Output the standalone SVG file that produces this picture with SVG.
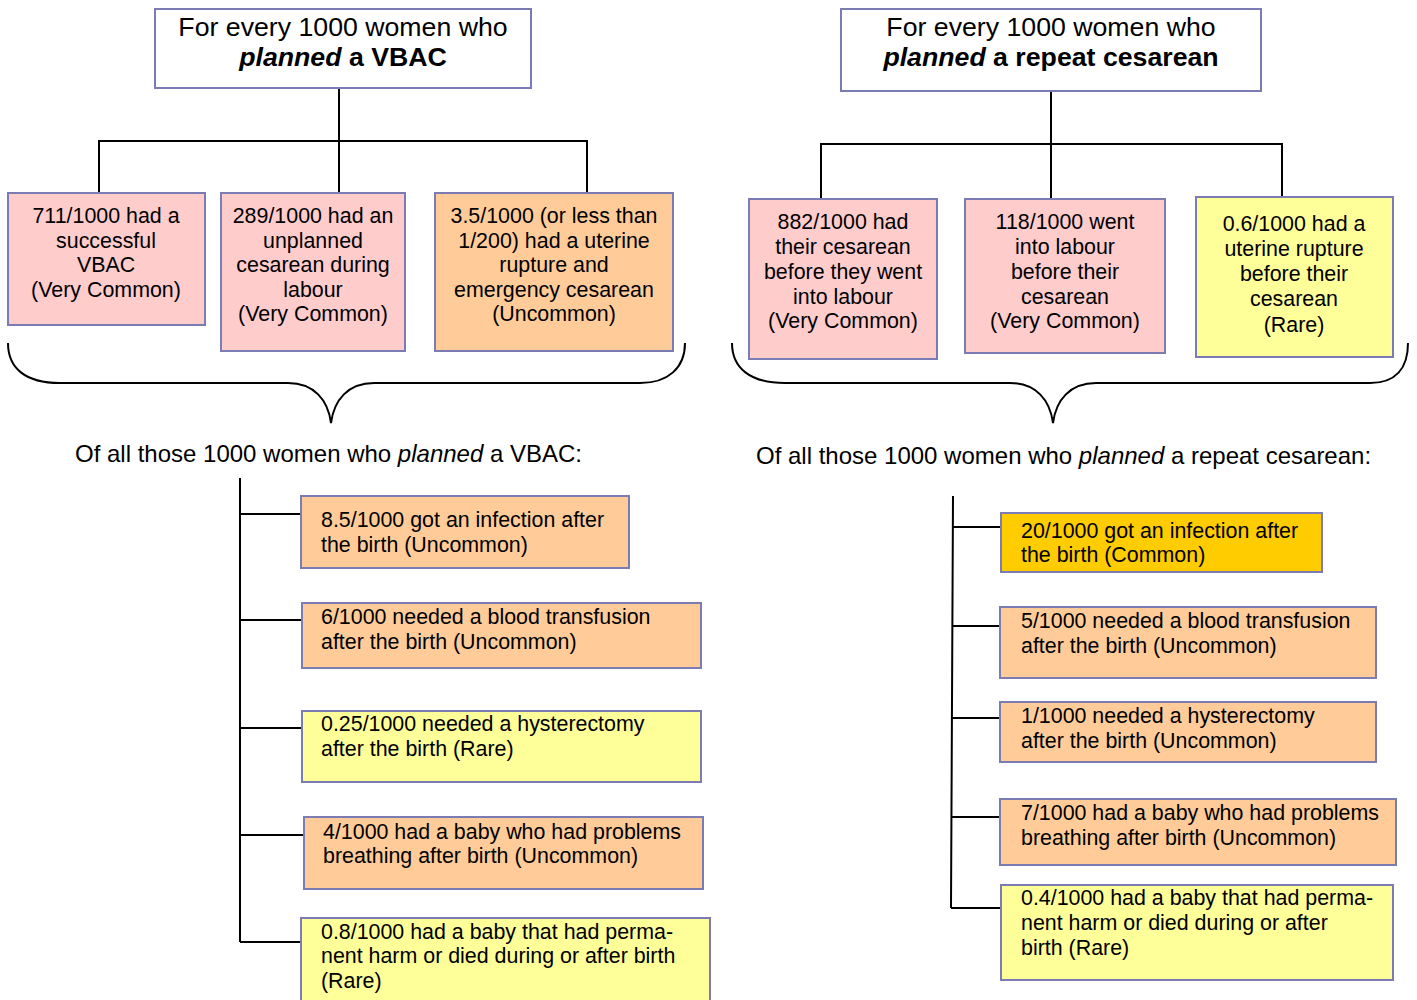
<svg xmlns="http://www.w3.org/2000/svg" width="1417" height="1000" viewBox="0 0 1417 1000">
<style>
text{font-family:"Liberation Sans",Arial,sans-serif;fill:#000}
.t{font-size:26.7px}
.b{font-size:21.4px}
.l{font-size:24px}
.c{text-anchor:middle}
.box{stroke:#7c7cb4;stroke-width:2}
.w{fill:#fff}.p{fill:#ffcccc}.o{fill:#ffcc99}.y{fill:#ffff99}.g{fill:#ffcc00}
.ln{stroke:#000;stroke-width:2;fill:none}
</style>
<rect width="1417" height="1000" fill="#fff"/>
<g id="connectors">
<path class="ln" d="M339,88V141M99,141H587M99,140V193M339,141V193M587,140V193"/>
<path class="ln" d="M1051,91V144M821,144H1282M821,143V199M1051,144V199M1282,143V197"/>
<path class="ln" d="M8,343C8,368 25,383 60,383L288,383C314,383 328,400 331,423C334,400 348,383 374,383L640,383C668,383 685,368 685,343"/>
<path class="ln" d="M732,343C732,368 750,383 785,383L1010,383C1036,383 1050,400 1053,423C1056,400 1070,383 1096,383L1370,383C1396,383 1408,368 1408,343"/>
<path class="ln" d="M240,478V942M240,514H300M240,620H302M240,728H302M240,835H304M240,942H301"/>
<path class="ln" d="M953,496L951,908M952,527H1001M952,626H1000M952,718H1000M951,817H1000M951,908H1001"/>
</g>
<g id="title-vbac"><rect class="box w" x="155" y="9" width="376" height="79"/>
<text class="t c" x="343" y="36">For every 1000 women who</text>
<text class="t c" x="343" y="66" font-weight="bold"><tspan font-style="italic">planned</tspan> a VBAC</text></g>
<g id="title-cs"><rect class="box w" x="841" y="9" width="420" height="82"/>
<text class="t c" x="1051" y="36">For every 1000 women who</text>
<text class="t c" x="1051" y="66" font-weight="bold"><tspan font-style="italic">planned</tspan> a repeat cesarean</text></g>

<g id="n-711"><rect class="box p" x="8" y="193" width="197" height="132"/>
<text class="b c" x="106" y="223">711/1000 had a<tspan x="106" y="248">successful</tspan><tspan x="106" y="272">VBAC</tspan><tspan x="106" y="297">(Very Common)</tspan></text></g>
<g id="n-289"><rect class="box p" x="221" y="193" width="184" height="158"/>
<text class="b c" x="313" y="223">289/1000 had an<tspan x="313" y="248">unplanned</tspan><tspan x="313" y="272">cesarean during</tspan><tspan x="313" y="297">labour</tspan><tspan x="313" y="321">(Very Common)</tspan></text></g>
<g id="n-3-5"><rect class="box o" x="435" y="193" width="238" height="158"/>
<text class="b c" x="554" y="223">3.5/1000 (or less than<tspan x="554" y="248">1/200) had a uterine</tspan><tspan x="554" y="272">rupture and</tspan><tspan x="554" y="297">emergency cesarean</tspan><tspan x="554" y="321">(Uncommon)</tspan></text></g>

<g id="n-882"><rect class="box p" x="749" y="199" width="188" height="160"/>
<text class="b c" x="843" y="229">882/1000 had<tspan x="843" y="254">their cesarean</tspan><tspan x="843" y="279">before they went</tspan><tspan x="843" y="304">into labour</tspan><tspan x="843" y="328">(Very Common)</tspan></text></g>
<g id="n-118"><rect class="box p" x="965" y="199" width="200" height="154"/>
<text class="b c" x="1065" y="229">118/1000 went<tspan x="1065" y="254">into labour</tspan><tspan x="1065" y="279">before their</tspan><tspan x="1065" y="304">cesarean</tspan><tspan x="1065" y="328">(Very Common)</tspan></text></g>
<g id="n-0-6"><rect class="box y" x="1196" y="197" width="197" height="160"/>
<text class="b c" x="1294" y="231">0.6/1000 had a<tspan x="1294" y="256">uterine rupture</tspan><tspan x="1294" y="281">before their</tspan><tspan x="1294" y="306">cesarean</tspan><tspan x="1294" y="332">(Rare)</tspan></text></g>

<g id="label-vbac"><text class="l" x="75" y="462">Of all those 1000 women who <tspan font-style="italic">planned</tspan> a VBAC:</text></g>
<g id="label-cs"><text class="l" x="756" y="464">Of all those 1000 women who <tspan font-style="italic">planned</tspan> a repeat cesarean:</text></g>

<g id="v-infection"><rect class="box o" x="301" y="496" width="328" height="72"/>
<text class="b" x="321" y="527">8.5/1000 got an infection after<tspan x="321" y="552">the birth (Uncommon)</tspan></text></g>
<g id="v-transfusion"><rect class="box o" x="302" y="603" width="399" height="65"/>
<text class="b" x="321" y="624">6/1000 needed a blood transfusion<tspan x="321" y="649">after the birth (Uncommon)</tspan></text></g>
<g id="v-hysterectomy"><rect class="box y" x="302" y="711" width="399" height="71"/>
<text class="b" x="321" y="731">0.25/1000 needed a hysterectomy<tspan x="321" y="756">after the birth (Rare)</tspan></text></g>
<g id="v-breathing"><rect class="box o" x="304" y="817" width="399" height="72"/>
<text class="b" x="323" y="839">4/1000 had a baby who had problems<tspan x="323" y="863">breathing after birth (Uncommon)</tspan></text></g>
<g id="v-harm"><rect class="box y" x="301" y="918" width="409" height="90"/>
<text class="b" x="321" y="939">0.8/1000 had a baby that had perma-<tspan x="321" y="963">nent harm or died during or after birth</tspan><tspan x="321" y="988">(Rare)</tspan></text></g>

<g id="c-infection"><rect class="box g" x="1001" y="513" width="321" height="59"/>
<text class="b" x="1021" y="538">20/1000 got an infection after<tspan x="1021" y="562">the birth (Common)</tspan></text></g>
<g id="c-transfusion"><rect class="box o" x="1000" y="607" width="376" height="71"/>
<text class="b" x="1021" y="628">5/1000 needed a blood transfusion<tspan x="1021" y="653">after the birth (Uncommon)</tspan></text></g>
<g id="c-hysterectomy"><rect class="box o" x="1000" y="702" width="376" height="60"/>
<text class="b" x="1021" y="723">1/1000 needed a hysterectomy<tspan x="1021" y="748">after the birth (Uncommon)</tspan></text></g>
<g id="c-breathing"><rect class="box o" x="1000" y="799" width="396" height="66"/>
<text class="b" x="1021" y="820">7/1000 had a baby who had problems<tspan x="1021" y="845">breathing after birth (Uncommon)</tspan></text></g>
<g id="c-harm"><rect class="box y" x="1001" y="885" width="392" height="95"/>
<text class="b" x="1021" y="905">0.4/1000 had a baby that had perma-<tspan x="1021" y="930">nent harm or died during or after</tspan><tspan x="1021" y="955">birth (Rare)</tspan></text></g>
</svg>
